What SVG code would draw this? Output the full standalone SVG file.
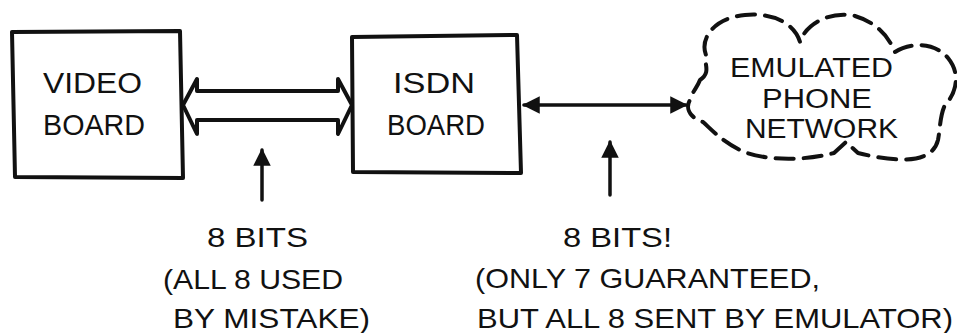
<svg xmlns="http://www.w3.org/2000/svg" width="957" height="333" viewBox="0 0 957 333">
<defs>
<style>
.box{fill:none;stroke:#111;stroke-width:4;stroke-linejoin:round}
.lbl{font-family:"Liberation Sans","DejaVu Sans",sans-serif;fill:#111}
.big{font-size:30px}
.cl{font-size:27px}
.note{font-size:28px}
.line{fill:none;stroke:#111;stroke-width:3.5;stroke-linecap:round}
.cloud{fill:none;stroke:#111;stroke-width:4;stroke-dasharray:18 10;stroke-linecap:round;stroke-linejoin:round}
</style>
<marker id="ah" viewBox="0 0 10 10" refX="9" refY="5" markerWidth="5" markerHeight="5" orient="auto-start-reverse" markerUnits="strokeWidth">
<path d="M0,0 L10,5 L0,10 Z" fill="#111"/>
</marker>
</defs>
<rect width="957" height="333" fill="#fff"/>

<g id="video-board">
<path class="box" d="M12,32 L180,31 L183,178 L15,177 Z"/>
<text class="lbl big" x="43" y="93" textLength="99" lengthAdjust="spacingAndGlyphs">VIDEO</text>
<text class="lbl big" x="43" y="135" textLength="102" lengthAdjust="spacingAndGlyphs">BOARD</text>
</g>

<g id="isdn-board">
<path class="box" d="M352,37 L517,35 L521,173 L353,172 Z"/>
<text class="lbl big" x="393" y="93" textLength="82" lengthAdjust="spacingAndGlyphs">ISDN</text>
<text class="lbl big" x="387" y="135" textLength="98" lengthAdjust="spacingAndGlyphs">BOARD</text>
</g>

<g id="phone-network">
<path class="cloud" d="M700,80 C712,72 703,63 706,55 C700,40 712,18 745,15 C775,12 795,25 800,42 C805,25 830,10 855,16 C875,22 888,35 895,52 C910,42 935,42 948,58 C962,75 955,95 945,105 C940,115 940,130 938,140 C932,165 895,162 858,153 L846,142 L834,153 C800,162 760,160 740,150 C720,140 710,128 703,122 C690,118 685,108 690,100 C692,92 697,88 700,80 Z"/>
<text class="lbl cl" x="730" y="77" textLength="163" lengthAdjust="spacingAndGlyphs">EMULATED</text>
<text class="lbl cl" x="762" y="108" textLength="110" lengthAdjust="spacingAndGlyphs">PHONE</text>
<text class="lbl cl" x="745" y="138" textLength="153" lengthAdjust="spacingAndGlyphs">NETWORK</text>
</g>

<g id="connectors">
<path class="box" d="M183,105 L197,79 L197,91 L338,91 L338,79 L352,105 L338,134 L338,120 L197,120 L197,134 Z"/>
<line class="line" x1="524" y1="105" x2="686" y2="105" marker-start="url(#ah)" marker-end="url(#ah)"/>
<line class="line" x1="262" y1="200" x2="262" y2="150" marker-end="url(#ah)"/>
<line class="line" x1="610" y1="195" x2="610" y2="142" marker-end="url(#ah)"/>
</g>

<g id="notes">
<text class="lbl note" x="207" y="247" textLength="101" lengthAdjust="spacingAndGlyphs">8 BITS</text>
<text class="lbl note" x="163" y="289" textLength="180" lengthAdjust="spacingAndGlyphs">(ALL 8 USED</text>
<text class="lbl note" x="173" y="328" textLength="197" lengthAdjust="spacingAndGlyphs">BY MISTAKE)</text>
<text class="lbl note" x="563" y="247" textLength="109" lengthAdjust="spacingAndGlyphs">8 BITS!</text>
<text class="lbl note" x="475" y="288" textLength="345" lengthAdjust="spacingAndGlyphs">(ONLY 7 GUARANTEED,</text>
<text class="lbl note" x="477" y="328" textLength="476" lengthAdjust="spacingAndGlyphs">BUT ALL 8 SENT BY EMULATOR)</text>
</g>
</svg>
